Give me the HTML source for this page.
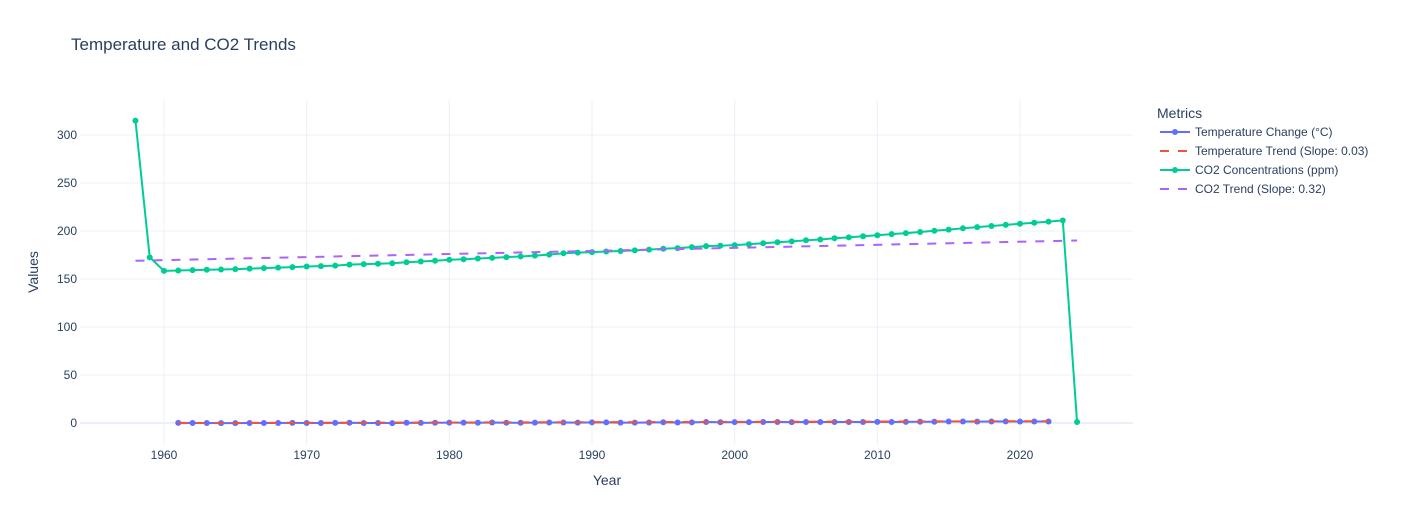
<!DOCTYPE html>
<html><head><meta charset="utf-8">
<style>
body{margin:0;background:#fff;font-family:"Liberation Sans",Arial,sans-serif;}
svg text{font-family:"Liberation Sans",Arial,sans-serif;}
</style></head>
<body>
<svg id="chart" width="1413" height="525" xmlns="http://www.w3.org/2000/svg">
<rect width="1413" height="525" fill="#fff"/>
<text x="71" y="50" font-size="17" fill="#2a3f5f">Temperature and CO2 Trends</text>
<g id="grid"></g>
<g id="marks"></g>
<g id="axes"></g>
<text x="607" y="485" font-size="14" fill="#2a3f5f" text-anchor="middle">Year</text>
<text x="38" y="272" font-size="14" fill="#2a3f5f" text-anchor="middle" transform="rotate(-90 38 272)">Values</text>
<g id="legend"></g>
</svg>
<script>
const co2Years=[1958,1959,1960,1961,1962,1963,1964,1965,1966,1967,1968,1969,1970,1971,1972,1973,1974,1975,1976,1977,1978,1979,1980,1981,1982,1983,1984,1985,1986,1987,1988,1989,1990,1991,1992,1993,1994,1995,1996,1997,1998,1999,2000,2001,2002,2003,2004,2005,2006,2007,2008,2009,2010,2011,2012,2013,2014,2015,2016,2017,2018,2019,2020,2021,2022,2023,2024];
const co2Values=[315,172.5,158.5,158.8,159.2,159.6,159.9,160.3,160.8,161.3,161.8,162.4,163,163.4,163.9,165,165.5,165.9,166.4,167.4,168.2,169,170,170.6,171.3,172,172.8,173.5,174.3,175.4,176.8,177.5,178,178.6,179.2,179.8,180.6,181.5,182.2,183.2,184.2,184.7,185.3,186.2,187.2,188.3,189.2,190.3,191.2,192.4,193.4,194.5,195.6,196.7,197.8,199,200.2,201.4,202.8,204,205.2,206.4,207.6,208.6,209.8,211,1];
const tempYears=[];for(let y=1961;y<=2022;y++)tempYears.push(y);
const tempValues=[0.1,0.0,0.05,-0.1,-0.1,0.05,0.0,-0.05,0.1,0.05,-0.05,0.1,0.3,0.0,0.05,-0.1,0.3,0.15,0.3,0.4,0.45,0.3,0.5,0.2,0.2,0.35,0.5,0.55,0.45,0.7,0.6,0.4,0.45,0.55,0.75,0.5,0.65,1.0,0.75,0.85,0.95,1.05,1.0,0.9,1.1,1.0,1.1,1.05,1.0,1.15,1.1,1.2,1.25,1.35,1.55,1.6,1.4,1.5,1.7,1.5,1.6,1.5];
const tempTrendYears=[1961,2022];
const tempTrendValues=[-0.1,1.9];
const co2TrendYears=[1958,2024];
const co2TrendValues=[169,190.1];
const xTicks=[1960,1970,1980,1990,2000,2010,2020];
const yTicks=[0,50,100,150,200,250,300];

const L=80,R=1133,T=100,B=445;
const X=y=>164+(y-1960)*(856/60);
const Y=v=>423-v*0.96;
const NS="http://www.w3.org/2000/svg";
function mk(tag,attrs,parent){const e=document.createElementNS(NS,tag);for(const k in attrs)e.setAttribute(k,attrs[k]);parent.appendChild(e);return e;}
const grid=document.getElementById('grid'),marks=document.getElementById('marks'),axes=document.getElementById('axes'),legend=document.getElementById('legend');
xTicks.forEach(t=>{
 const l=mk('line',{x1:X(t),x2:X(t),y1:T,y2:B,stroke:'#ebf0f8','stroke-width':1},grid);
 
 
 const tx=mk('text',{x:X(t),y:459,'font-size':12,fill:'#2a3f5f','text-anchor':'middle'},axes);tx.textContent=t;
 
 
});
yTicks.forEach(t=>{
 const l=mk('line',{x1:L,x2:R,y1:Y(t),y2:Y(t),stroke:'#ebf0f8','stroke-width':t===0?2:1},grid);
 
 
 const tx=mk('text',{x:L-3,y:Y(t)+4,'font-size':12,fill:'#2a3f5f','text-anchor':'end'},axes);tx.textContent=t;
 
 
});
function line(xs,vs,color,dash,name){
 const p=mk('polyline',{points:xs.map((x,i)=>X(x)+','+Y(vs[i])).join(' '),fill:'none',stroke:color,'stroke-width':2,'stroke-dasharray':dash||'none'},marks);
 
 
}
function pts(xs,vs,color,name){
 xs.forEach((x,i)=>{const c=mk('circle',{cx:X(x),cy:Y(vs[i]),r:3,fill:color},marks);
 
 });
}
line(tempYears,tempValues,'#636efa',null,'temperature-line');
pts(tempYears,tempValues,'#636efa','temperature-point');
line(tempTrendYears,tempTrendValues,'#EF553B','9,9','temperature-trend-line');
line(co2Years,co2Values,'#00cc96',null,'co2-line');
pts(co2Years,co2Values,'#00cc96','co2-point');
line(co2TrendYears,co2TrendValues,'#ab63fa','9,9','co2-trend-line');

const lt=mk('text',{x:1157,y:118,'font-size':14,fill:'#2a3f5f'},legend);lt.textContent='Metrics';


const entries=[['Temperature Change (°C)','#636efa',false,true],['Temperature Trend (Slope: 0.03)','#EF553B',true,false],['CO2 Concentrations (ppm)','#00cc96',false,true],['CO2 Trend (Slope: 0.32)','#ab63fa',true,false]];
entries.forEach((e,i)=>{
 const y=132+i*19;
 const g=mk('g',{},legend);
 
 
 mk('line',{x1:1160,x2:1190,y1:y,y2:y,stroke:e[1],'stroke-width':2,'stroke-dasharray':e[2]?'9,9':'none'},g);
 if(e[3])mk('circle',{cx:1175,cy:y,r:3,fill:e[1]},g);
 const t=mk('text',{x:1195,y:y+4,'font-size':12,fill:'#2a3f5f'},g);t.textContent=e[0];
});
</script>
</body></html>
